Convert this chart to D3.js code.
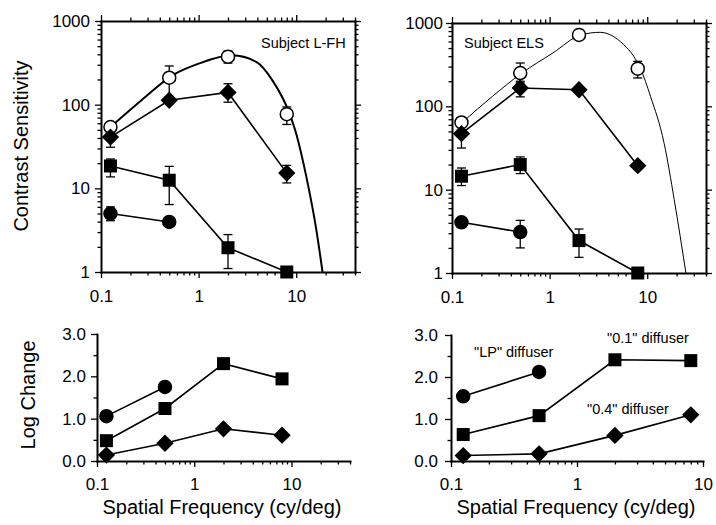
<!DOCTYPE html>
<html>
<head>
<meta charset="utf-8">
<script src="https://cdn.jsdelivr.net/npm/d3@7"></script>
<style>
  body { margin: 0; background: #fff; }
</style>
</head>
<body>
<script>
// spatial frequencies (cy/deg) used by every series
const freqs = [0.125, 0.5, 2, 8];

// Subject L-FH, contrast sensitivity
const lfhOpen = [54, 210, 375, 77];
const lfhOpenErr = [null, [125, 290], [314, 437], [58, 94]];
const lfhDiamond = [41, 113, 140, 15.2];
const lfhDiamondErr = [[31, 48], null, [107, 178], [11.6, 18.8]];
const lfhSquare = [18.5, 12.5, 1.95, 1.0];
const lfhSquareErr = [[13.7, 22.4], [6.4, 18.3], [1.1, 2.8], null];
const lfhCircle = [5.0, 3.96];
const lfhCircleErr = [[4.1, 6.0], null];
// fitted curve through the open circles
const lfhCurveF = [0.125, 0.26, 0.54, 1.0, 2.2, 3.9, 5.7, 8.4, 10, 12.7, 16.1, 18.6];
const lfhCurveS = [54, 113, 224, 309, 389, 324, 195, 82, 45, 13.7, 3.15, 1];

// Subject ELS, contrast sensitivity
const elsOpen = [64, 251, 720, 283];
const elsOpenErr = [[57, 73], [200, 331], null, [219, 347]];
const elsDiamond = [47, 166, 158, 19.4];
const elsDiamondErr = [[31.6, 60], [130, 191], null, null];
const elsSquare = [14.5, 20, 2.45, 1.0];
const elsSquareErr = [[11.2, 18.2], [15.6, 24.7], [1.54, 3.37], null];
const elsCircle = [4.06, 3.1];
const elsCircleErr = [null, [2.0, 4.28]];
const elsCurveF = [0.127, 0.26, 0.52, 1.08, 2.12, 3.29, 5.74, 7.28, 8.53, 10.8, 14.9, 18.9, 24.9];
const elsCurveS = [64, 132, 251, 437, 724, 773, 550, 398, 283, 132, 36, 7.6, 1];

// log change (bottom panels)
const lfhChangeCircle = [1.06, 1.75];
const lfhChangeSquare = [0.48, 1.24, 2.30, 1.94];
const lfhChangeDiamond = [0.14, 0.42, 0.76, 0.61];
const elsChangeCircle = [1.54, 2.12];
const elsChangeSquare = [0.63, 1.08, 2.41, 2.39];
const elsChangeDiamond = [0.13, 0.17, 0.61, 1.10];

// axis ticks and labels
const freqTicks = [0.1, 1, 10];
const freqTickLabels = ["0.1", "1", "10"];
const csTicks = [1, 10, 100, 1000];
const csTickLabels = ["1", "10", "100", "1000"];
const changeTicks = [0, 1, 2, 3];
const changeTickLabels = ["0.0", "1.0", "2.0", "3.0"];

const FONT = "'Liberation Sans', Arial, Helvetica, sans-serif";

const svg = d3.select("body").append("svg")
  .attr("width", 716)
  .attr("height", 525)
  .style("font-family", FONT);

svg.append("rect").attr("width", 716).attr("height", 525).attr("fill", "#fff");

// one axis = major ticks (with or without labels) plus a minor tick layer
function drawAxis(pos, gen, scale, majors, labels, minors, pad) {
  const g = svg.append("g").attr("transform", `translate(${pos[0]},${pos[1]})`);
  g.append("g").call(gen(scale).tickValues(majors).tickSize(6).tickSizeOuter(0)
    .tickPadding(pad).tickFormat((d, i) => labels ? labels[i] : ""));
  const mn = g.append("g").call(gen(scale).tickValues(minors).tickSize(3.5).tickFormat(""));
  mn.select(".domain").remove();
  g.selectAll(".domain").attr("stroke", "#000").attr("stroke-width", 2).attr("stroke-linecap", "square");
  g.selectAll(".tick line").attr("stroke", "#000").attr("stroke-width", 1.3);
  g.selectAll("text").attr("font-size", 17).attr("font-family", FONT).attr("fill", "#000");
  return g;
}

function minorsOf(scale, majors) {
  return scale.ticks().filter(t => !majors.some(m => Math.abs(m - t) < 1e-9));
}

function errorBars(x, y, vals, errs, fx) {
  errs.forEach((e, i) => {
    if (!e) return;
    const cx = x(fx[i]);
    const g = svg.append("g").attr("stroke", "#000").attr("stroke-width", 1.3);
    g.append("line").attr("x1", cx).attr("x2", cx).attr("y1", y(e[0])).attr("y2", y(e[1]));
    [e[0], e[1]].forEach(v => {
      g.append("line").attr("x1", cx - 4.5).attr("x2", cx + 4.5).attr("y1", y(v)).attr("y2", y(v));
    });
  });
}

function series(x, y, vals, shape, fx) {
  const pts = vals.map((v, i) => [x(fx[i]), y(v)]);
  svg.append("path")
    .attr("d", d3.line()(pts))
    .attr("fill", "none")
    .attr("stroke", "#000")
    .attr("stroke-width", 1.6);
  pts.forEach(p => marker(p, shape));
}

function marker(p, shape) {
  if (shape === "circle" || shape === "open") {
    svg.append("circle").attr("cx", p[0]).attr("cy", p[1]).attr("r", 6.5)
      .attr("fill", shape === "open" ? "#fff" : "#000")
      .attr("stroke", "#000").attr("stroke-width", 1.5);
  } else if (shape === "square") {
    svg.append("rect").attr("x", p[0] - 6.5).attr("y", p[1] - 6.5)
      .attr("width", 13).attr("height", 13).attr("fill", "#000");
  } else {
    svg.append("path")
      .attr("d", d3.symbol().type(d3.symbolSquare).size(150)())
      .attr("transform", `translate(${p[0]},${p[1]}) rotate(45)`)
      .attr("fill", "#000");
  }
}

// ---------- top panels: contrast sensitivity ----------
function csPanel(box, d) {
  const x = d3.scaleLog().domain([0.1, 40]).range([box.l, box.r]);
  const y = d3.scaleLog().domain([1, 1000]).range([box.b, box.t]);
  const xr = x.copy().range([0, box.r - box.l]);
  const yr = y.copy().range([box.b - box.t, 0]);
  const xMin = minorsOf(xr, freqTicks);
  const yMin = minorsOf(yr, csTicks);
  drawAxis([box.l, box.b], d3.axisBottom, xr, freqTicks, freqTickLabels, xMin, 12);
  drawAxis([box.l, box.t], d3.axisTop, xr, freqTicks, null, xMin, 3);
  drawAxis([box.l, box.t], d3.axisLeft, yr, csTicks, csTickLabels, yMin, box.pad);
  drawAxis([box.r, box.t], d3.axisRight, yr, csTicks, null, yMin, 3);

  // fitted curve
  svg.append("path")
    .attr("d", d3.line().curve(d3.curveMonotoneX)(d.curveF.map((f, i) => [x(f), y(d.curveS[i])])))
    .attr("fill", "none")
    .attr("stroke", "#000")
    .attr("stroke-width", d.curveW);

  errorBars(x, y, d.open, d.openErr, freqs);
  errorBars(x, y, d.diamond, d.diamondErr, freqs);
  errorBars(x, y, d.square, d.squareErr, freqs);
  errorBars(x, y, d.circle, d.circleErr, freqs);

  freqs.forEach((f, i) => marker([x(f), y(d.open[i])], "open"));
  series(x, y, d.circle, "circle", freqs);
  series(x, y, d.square, "square", freqs);
  series(x, y, d.diamond, "diamond", freqs);

  svg.append("text")
    .attr("x", d.labelX).attr("y", 48)
    .attr("font-size", 14.5)
    .text(d.label);
}

csPanel({ l: 101, r: 355, t: 21, b: 272, pad: 5 }, {
  open: lfhOpen, openErr: lfhOpenErr,
  diamond: lfhDiamond, diamondErr: lfhDiamondErr,
  square: lfhSquare, squareErr: lfhSquareErr,
  circle: lfhCircle, circleErr: lfhCircleErr,
  curveF: lfhCurveF, curveS: lfhCurveS, curveW: 2,
  label: "Subject L-FH", labelX: 261
});

csPanel({ l: 452, r: 706, t: 23, b: 273, pad: 3 }, {
  open: elsOpen, openErr: elsOpenErr,
  diamond: elsDiamond, diamondErr: elsDiamondErr,
  square: elsSquare, squareErr: elsSquareErr,
  circle: elsCircle, circleErr: elsCircleErr,
  curveF: elsCurveF, curveS: elsCurveS, curveW: 1,
  label: "Subject ELS", labelX: 464
});

// ---------- bottom panels: log change ----------
function changePanel(box, xMax, d) {
  const x = d3.scaleLog().domain([0.1, xMax]).range([box.l, box.r]);
  const y = d3.scaleLinear().domain([0, 3]).range([box.b, box.t]);
  const xr = x.copy().range([0, box.r - box.l]);
  const yr = y.copy().range([box.b - box.t, 0]);
  drawAxis([box.l, box.b], d3.axisBottom, xr, freqTicks, freqTickLabels, minorsOf(xr, freqTicks), 11);
  drawAxis([box.l, box.t], d3.axisLeft, yr, changeTicks, changeTickLabels, [0.5, 1.5, 2.5], box.pad);

  series(x, y, d.circle, "circle", freqs);
  series(x, y, d.square, "square", freqs);
  series(x, y, d.diamond, "diamond", freqs);
}

changePanel({ l: 97, r: 350, t: 334, b: 461, pad: 5 }, 40, {
  circle: lfhChangeCircle, square: lfhChangeSquare, diamond: lfhChangeDiamond
});

changePanel({ l: 451, r: 703, t: 335, b: 461, pad: 7 }, 10, {
  circle: elsChangeCircle, square: elsChangeSquare, diamond: elsChangeDiamond
});

// diffuser labels
const notes = [
  { text: "\"LP\" diffuser", x: 474, y: 357 },
  { text: "\"0.1\" diffuser", x: 607, y: 343 },
  { text: "\"0.4\" diffuser", x: 587, y: 414 }
];
svg.selectAll(".note").data(notes).join("text")
  .attr("class", "note")
  .attr("x", d => d.x).attr("y", d => d.y)
  .attr("font-size", 14.5)
  .text(d => d.text);

// axis titles
svg.append("text")
  .attr("transform", "translate(28,146) rotate(-90)")
  .attr("text-anchor", "middle")
  .attr("font-size", 20)
  .text("Contrast Sensitivity");

svg.append("text")
  .attr("transform", "translate(35,395) rotate(-90)")
  .attr("text-anchor", "middle")
  .attr("font-size", 20)
  .text("Log Change");

[222, 576].forEach(cx => {
  svg.append("text")
    .attr("x", cx).attr("y", 514)
    .attr("text-anchor", "middle")
    .attr("font-size", 20)
    .text("Spatial Frequency (cy/deg)");
});
</script>
</body>
</html>
